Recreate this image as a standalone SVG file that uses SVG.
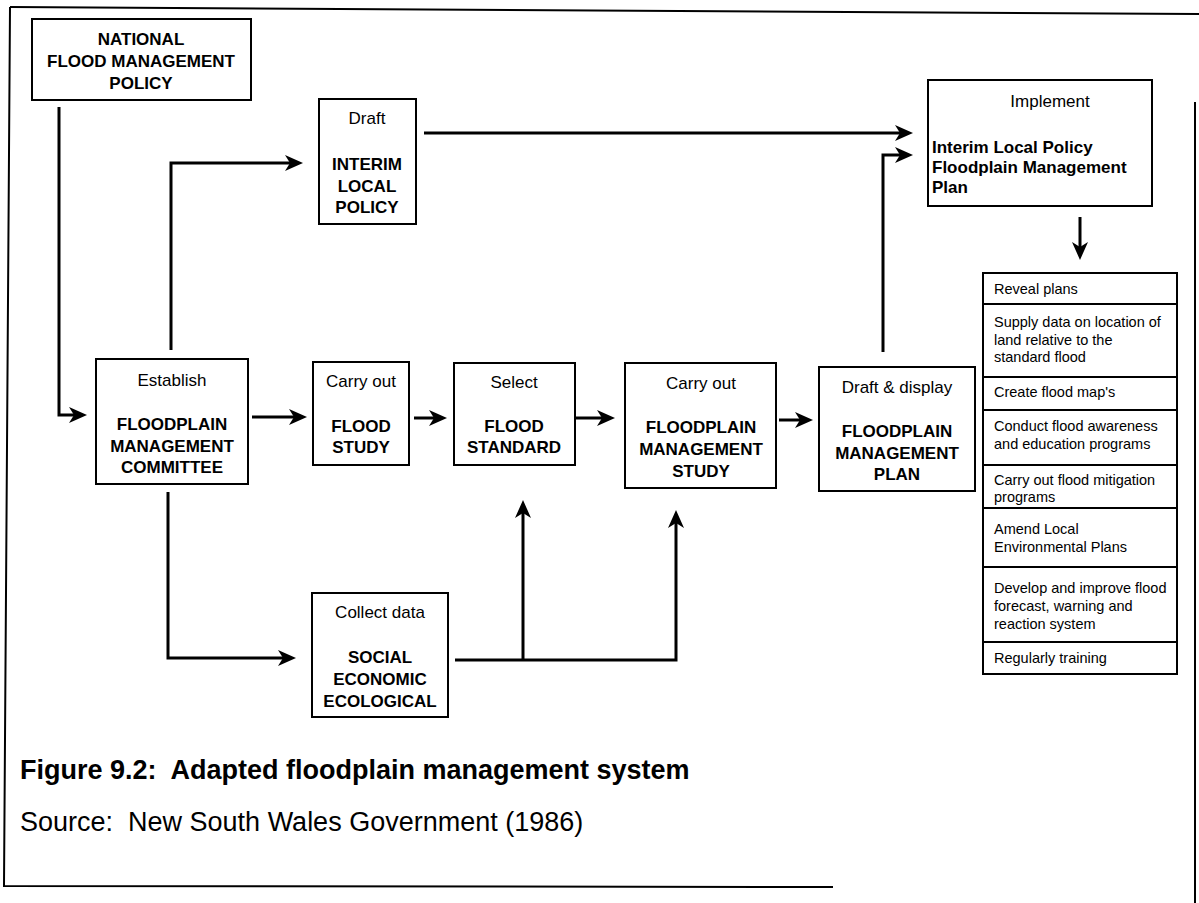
<svg xmlns="http://www.w3.org/2000/svg" width="1199" height="903" viewBox="0 0 1199 903">
<defs>
<style>
.box{fill:#fff;stroke:#000;stroke-width:2}
.conn{fill:none;stroke:#000;stroke-width:3}
.frame{fill:none;stroke:#000;stroke-width:2}
text{font-family:"Liberation Sans",Arial,sans-serif;fill:#000}
.t{font-size:17px;text-anchor:middle}
.b{font-weight:bold}
.l{font-size:17px;font-weight:bold}
.li{font-size:14.5px}
.cap{font-size:27px}
</style>
<marker id="ah" markerUnits="userSpaceOnUse" markerWidth="30" markerHeight="20" viewBox="-20 -10 30 20" refX="0" refY="0" orient="auto">
<path d="M6,0 L-12,-8 L-7,0 L-12,8 Z" fill="#000"/>
</marker>
</defs>
<rect width="1199" height="903" fill="#fff"/>
<g id="frame">
<path class="frame" d="M10,7 L1199,14"/>
<path class="frame" d="M10,7 L4,886 L833,887"/>
<path class="frame" d="M1195,102 L1195,903"/>
</g>
<g id="connectors">
<path class="conn" d="M59,107 V415 H81" marker-end="url(#ah)"/>
<path class="conn" d="M171,350 V163 H297" marker-end="url(#ah)"/>
<path class="conn" d="M252,417 H301" marker-end="url(#ah)"/>
<path class="conn" d="M168,492 V658 H290" marker-end="url(#ah)"/>
<path class="conn" d="M414,418 H441" marker-end="url(#ah)"/>
<path class="conn" d="M576,418 H609" marker-end="url(#ah)"/>
<path class="conn" d="M779,420 H807" marker-end="url(#ah)"/>
<path class="conn" d="M455,660 H676 V516" marker-end="url(#ah)"/>
<path class="conn" d="M523,660 V506" marker-end="url(#ah)"/>
<path class="conn" d="M424,133 H907" marker-end="url(#ah)"/>
<path class="conn" d="M883,352 V155 H907" marker-end="url(#ah)"/>
<path class="conn" d="M1080,217 V254" marker-end="url(#ah)"/>
</g>
<g id="national">
<rect class="box" x="32" y="19" width="219" height="81"/>
<text class="t b" x="141" y="45">NATIONAL</text>
<text class="t b" x="141" y="67">FLOOD MANAGEMENT</text>
<text class="t b" x="141" y="89">POLICY</text>
</g>
<g id="draft">
<rect class="box" x="319" y="99" width="97" height="125"/>
<text class="t" x="367" y="124">Draft</text>
<text class="t b" x="367" y="170">INTERIM</text>
<text class="t b" x="367" y="192">LOCAL</text>
<text class="t b" x="367" y="213">POLICY</text>
</g>
<g id="implement">
<rect class="box" x="928" y="80" width="224" height="126"/>
<text class="t" x="1050" y="107">Implement</text>
<text class="l" x="932" y="153">Interim Local Policy</text>
<text class="l" x="932" y="173">Floodplain Management</text>
<text class="l" x="932" y="193">Plan</text>
</g>
<g id="establish">
<rect class="box" x="96" y="359" width="152" height="125"/>
<text class="t" x="172" y="386">Establish</text>
<text class="t b" x="172" y="430">FLOODPLAIN</text>
<text class="t b" x="172" y="452">MANAGEMENT</text>
<text class="t b" x="172" y="473">COMMITTEE</text>
</g>
<g id="flood-study">
<rect class="box" x="313" y="362" width="96" height="103"/>
<text class="t" x="361" y="387">Carry out</text>
<text class="t b" x="361" y="432">FLOOD</text>
<text class="t b" x="361" y="453">STUDY</text>
</g>
<g id="flood-standard">
<rect class="box" x="454" y="363" width="121" height="102"/>
<text class="t" x="514" y="388">Select</text>
<text class="t b" x="514" y="432">FLOOD</text>
<text class="t b" x="514" y="453">STANDARD</text>
</g>
<g id="fm-study">
<rect class="box" x="625" y="363" width="151" height="125"/>
<text class="t" x="701" y="389">Carry out</text>
<text class="t b" x="701" y="433">FLOODPLAIN</text>
<text class="t b" x="701" y="455">MANAGEMENT</text>
<text class="t b" x="701" y="477">STUDY</text>
</g>
<g id="fm-plan">
<rect class="box" x="819" y="367" width="156" height="124"/>
<text class="t" x="897" y="393">Draft &amp; display</text>
<text class="t b" x="897" y="437">FLOODPLAIN</text>
<text class="t b" x="897" y="459">MANAGEMENT</text>
<text class="t b" x="897" y="480">PLAN</text>
</g>
<g id="collect">
<rect class="box" x="312" y="593" width="136" height="124"/>
<text class="t" x="380" y="618">Collect data</text>
<text class="t b" x="380" y="663">SOCIAL</text>
<text class="t b" x="380" y="685">ECONOMIC</text>
<text class="t b" x="380" y="707">ECOLOGICAL</text>
</g>
<g id="actions">
<rect class="box" x="983" y="273" width="194" height="401"/>
<path class="frame" d="M983,304 H1177 M983,377 H1177 M983,410 H1177 M983,465 H1177 M983,508 H1177 M983,567 H1177 M983,642 H1177"/>
<text class="li" x="994" y="294">Reveal plans</text>
<text class="li" x="994" y="327">Supply data on location of</text>
<text class="li" x="994" y="345">land relative to the</text>
<text class="li" x="994" y="362">standard flood</text>
<text class="li" x="994" y="397">Create flood map's</text>
<text class="li" x="994" y="431">Conduct flood awareness</text>
<text class="li" x="994" y="449">and education programs</text>
<text class="li" x="994" y="485">Carry out flood mitigation</text>
<text class="li" x="994" y="502">programs</text>
<text class="li" x="994" y="534">Amend Local</text>
<text class="li" x="994" y="552">Environmental Plans</text>
<text class="li" x="994" y="593">Develop and improve  flood</text>
<text class="li" x="994" y="611">forecast, warning  and</text>
<text class="li" x="994" y="629">reaction system</text>
<text class="li" x="994" y="663">Regularly training</text>
</g>
<g id="caption">
<text class="cap b" x="20" y="779" xml:space="preserve">Figure 9.2:  Adapted floodplain management system</text>
<text class="cap" x="20" y="831" xml:space="preserve">Source:  New South Wales Government (1986)</text>
</g>
</svg>
